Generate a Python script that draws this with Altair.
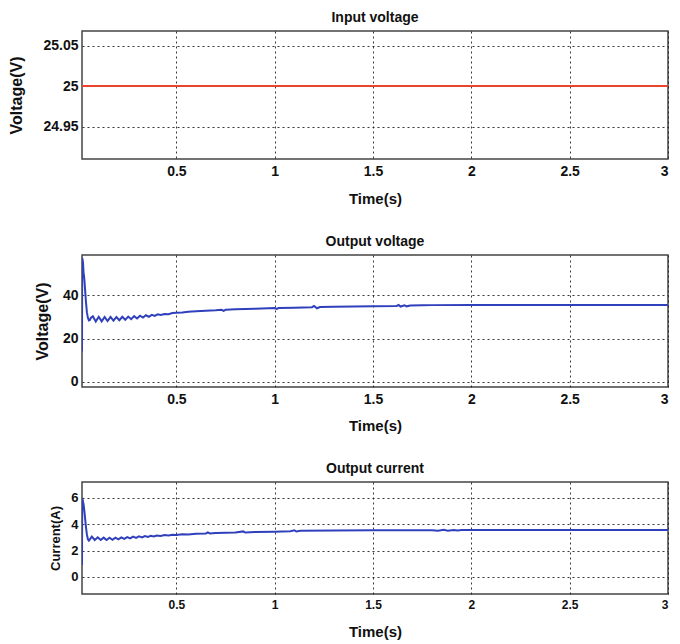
import altair as alt
import pandas as pd

FONT = "Liberation Sans"

# ---------------- data ----------------
vin_t = [0.02, 3.0]
vin_v = [25.0, 25.0]

vo_t = [0.02, 0.021, 0.025, 0.028, 0.03, 0.033, 0.036, 0.04, 0.045, 0.05, 0.055, 0.06, 0.065,
        0.075, 0.09, 0.105, 0.12, 0.135, 0.15, 0.165, 0.18, 0.195, 0.21, 0.225, 0.24, 0.255,
        0.27, 0.285, 0.30, 0.315, 0.33, 0.345, 0.36, 0.375, 0.39, 0.405, 0.42, 0.44, 0.46,
        0.48, 0.50, 0.53, 0.56, 0.60, 0.65, 0.70, 0.73, 0.74, 0.75, 0.80, 0.90, 1.00, 1.01,
        1.02, 1.10, 1.19, 1.20, 1.215, 1.23, 1.30, 1.40, 1.50, 1.62, 1.63, 1.64, 1.66, 1.67,
        1.69, 1.75, 1.80, 2.00, 2.50, 3.00]
vo_v = [14.0, 57.0, 55.0, 50.0, 49.0, 46.0, 42.0, 37.0, 32.0, 29.5, 28.3, 28.5, 29.5,
        30.2, 27.8, 30.0, 27.9, 29.9, 28.0, 29.9, 28.2, 29.9, 28.4, 30.0, 28.6, 30.1,
        28.9, 30.3, 29.2, 30.5, 29.6, 30.7, 30.0, 30.9, 30.4, 31.1, 30.8, 31.3, 31.2,
        31.7, 31.8, 32.0, 32.3, 32.5, 32.8, 33.0, 33.2, 32.7, 33.2, 33.4, 33.7, 34.0, 33.6,
        34.0, 34.2, 34.4, 35.0, 33.9, 34.5, 34.6, 34.7, 34.8, 35.0, 35.4, 34.7, 35.3, 34.8,
        35.2, 35.3, 35.35, 35.4, 35.45, 35.45]

io_t = [0.02, 0.021, 0.024, 0.028, 0.032, 0.036, 0.04, 0.045, 0.05, 0.055, 0.06, 0.07,
        0.085, 0.10, 0.115, 0.13, 0.145, 0.16, 0.175, 0.19, 0.205, 0.22, 0.235, 0.25, 0.265,
        0.28, 0.295, 0.31, 0.325, 0.34, 0.355, 0.37, 0.385, 0.40, 0.42, 0.44, 0.46, 0.48,
        0.50, 0.53, 0.56, 0.60, 0.65, 0.66, 0.67, 0.70, 0.80, 0.84, 0.85, 0.90, 1.00, 1.08,
        1.10, 1.11, 1.13, 1.30, 1.50, 1.80, 1.83, 1.86, 1.88, 1.91, 1.93, 1.95, 2.50, 3.00]
io_v = [0.9, 5.7, 5.8, 5.5, 5.0, 4.4, 3.8, 3.2, 2.85, 2.75, 2.85, 3.05,
        2.80, 3.00, 2.80, 2.98, 2.80, 2.97, 2.82, 2.98, 2.85, 3.00, 2.88, 3.02, 2.92,
        3.05, 2.96, 3.07, 3.00, 3.10, 3.03, 3.12, 3.07, 3.14, 3.10, 3.17, 3.14, 3.20,
        3.18, 3.24, 3.22, 3.27, 3.30, 3.38, 3.30, 3.33, 3.37, 3.45, 3.36, 3.40, 3.43, 3.46,
        3.54, 3.44, 3.50, 3.52, 3.53, 3.54, 3.50, 3.57, 3.50, 3.56, 3.52, 3.55, 3.55, 3.55]

x_ticks = [0.5, 1, 1.5, 2, 2.5, 3]

W = 586
GRID = dict(grid=True, gridDash=[2, 3], gridColor="#222", gridWidth=1, gridOpacity=0.9,
            ticks=False, domain=False, labelFont=FONT, labelFontWeight="bold",
            labelColor="#111", titleFont=FONT, titleFontWeight="bold", titleColor="#111")


def panel(t, v, color, title, ytitle, ydomain, yticks, yfmt, height,
          lab_size, ytitle_size, ytitle_pad, xlab_size, xtitle_pad):
    df = pd.DataFrame({"t": t, "v": v})
    return alt.Chart(df, title=alt.TitleParams(
        title, font=FONT, fontSize=14, fontWeight="bold", color="#111", offset=6)
    ).mark_line(color=color, strokeWidth=2, clip=True).encode(
        x=alt.X("t:Q", scale=alt.Scale(domain=[0.02, 3.0], nice=False, zero=False),
                axis=alt.Axis(values=x_ticks, format="~g", title="Time(s)",
                              labelFontSize=xlab_size, titleFontSize=15,
                              labelPadding=5, titlePadding=xtitle_pad, **GRID)),
        y=alt.Y("v:Q", scale=alt.Scale(domain=ydomain, nice=False, zero=False),
                axis=alt.Axis(values=yticks, format=yfmt, title=ytitle,
                              labelFontSize=lab_size, titleFontSize=ytitle_size,
                              labelPadding=4, titlePadding=ytitle_pad, **GRID)),
    ).properties(width=W, height=height)


p1 = panel(vin_t, vin_v, "#e8452c", "Input voltage", "Voltage(V)",
           [24.91, 25.068], [24.95, 25.0, 25.05], "~g", 128, 14, 16, 18, 14, 13)
p2 = panel(vo_t, vo_v, "#3040bc", "Output voltage", "Voltage(V)",
           [-2.3, 58.4], [0, 20, 40], "d", 132, 14, 16, 12, 14, 12)
p3 = panel(io_t, io_v, "#3040bc", "Output current", "Current(A)",
           [-1.3, 7.2], [0, 2, 4, 6], "d", 112, 13, 13, 8, 12, 14)

chart = alt.vconcat(p1, p2, p3, spacing=27).properties(
    padding={"left": 0, "top": 2, "right": 0, "bottom": 0}
).configure_view(stroke="#444", strokeWidth=1.5)

chart.save("out.html", embed_options={"renderer": "svg", "actions": False})
